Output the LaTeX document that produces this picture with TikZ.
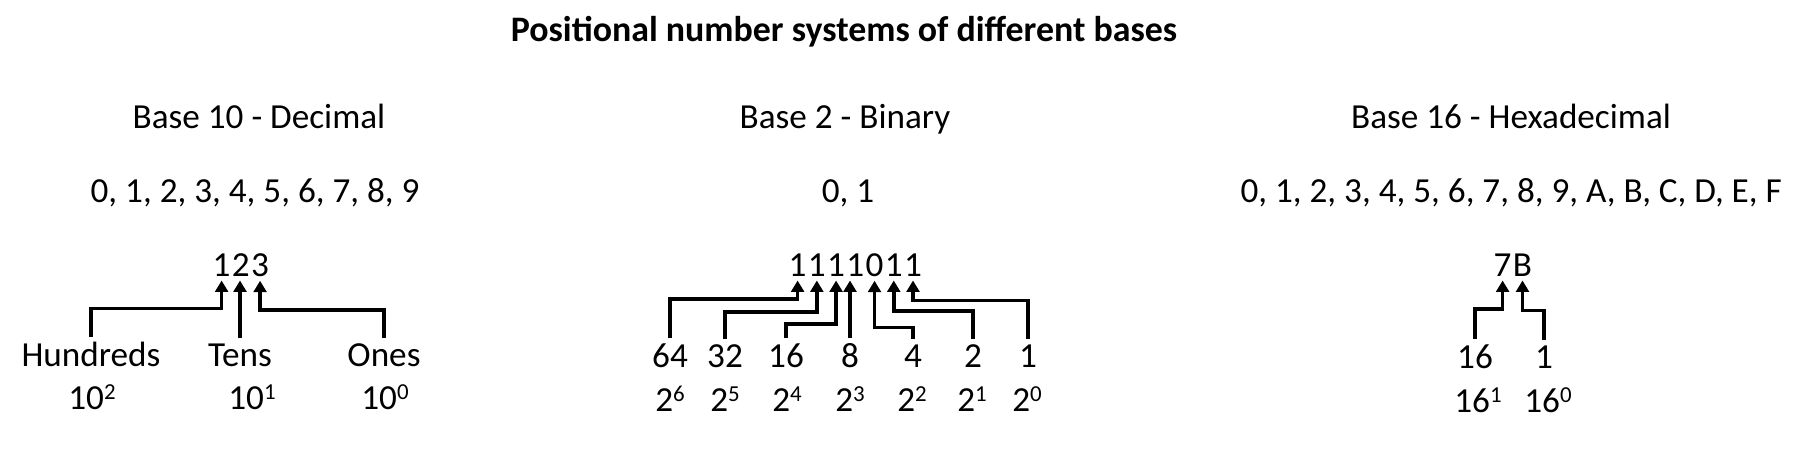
\documentclass[tikz,border=0pt]{standalone}
\usepackage{fontspec}
\setmainfont{Carlito}
\usetikzlibrary{arrows.meta,positioning}
\newcommand{\basepow}[2]{#1\raisebox{3pt}{\fontsize{6.5pt}{6.5pt}\selectfont #2}}
\tikzset{
  txt/.style={anchor=base,inner sep=0pt,font=\fontsize{10pt}{12pt}\selectfont},
  ttl/.style={txt,font=\fontsize{10.2pt}{12pt}\selectfont\bfseries},
  digit/.style={txt,inner xsep=0pt,inner ysep=0.8pt},
  lbl/.style={txt,inner ysep=1.5pt},
  arr/.style={-{Triangle[length=3.2pt,width=3.6pt]},line width=1.05pt},
}

\begin{document}
\begin{tikzpicture}[x=0.01cm,y=-0.01cm]
  \useasboundingbox (0,0) rectangle (1814,452);

  \node[ttl] (title) at (844,42) {Positional number systems of different bases};

  % --- Base 10 ---
  \node[txt] (dechead) at (259,129) {Base 10 - Decimal};
  \node[txt] (decset) at (255,203) {0, 1, 2, 3, 4, 5, 6, 7, 8, 9};
  \node[digit,anchor=base west] (d1) at (212,277) {1};
  \node[digit,base right=0pt of d1] (d2) {2};
  \node[digit,base right=0pt of d2] (d3) {3};
  \node[lbl] (hund) at (91,367) {Hundreds};
  \node[lbl] (tens) at (240,367) {Tens};
  \node[lbl] (ones) at (384,367) {Ones};
  \node[txt] (p102) at (92,410) {\basepow{10}{2}};
  \node[txt] (p101) at (252,410) {\basepow{10}{1}};
  \node[txt] (p100) at (385,410) {\basepow{10}{0}};

  \draw[arr] (hund.north) -- ++(0,-28) -| (d1.south);
  \draw[arr] (tens.north) -- (tens.north |- d2.south);
  \draw[arr] (ones.north) -- ++(0,-28) -| (d3.south);

  % --- Base 2 ---
  \node[txt] (binhead) at (845,129) {Base 2 - Binary};
  \node[txt] (binset) at (848,203) {0, 1};
  \node[digit,anchor=base west] (b6) at (788,277) {1};
  \node[digit,base right=0pt of b6] (b5) {1};
  \node[digit,base right=0pt of b5] (b4) {1};
  \node[digit,base right=0pt of b4] (b3) {1};
  \node[digit,base right=0pt of b3] (b2) {0};
  \node[digit,base right=0pt of b2] (b1) {1};
  \node[digit,base right=0pt of b1] (b0) {1};
  \node[lbl] (l64) at (670,368) {64};
  \node[lbl] (l32) at (725,368) {32};
  \node[lbl] (l16) at (786,368) {16};
  \node[lbl] (l8) at (850,368) {8};
  \node[lbl] (l4) at (913,368) {4};
  \node[lbl] (l2) at (973,368) {2};
  \node[lbl] (l1) at (1028,368) {1};
  \node[txt] (p26) at (670,412) {\basepow{2}{6}};
  \node[txt] (p25) at (725,412) {\basepow{2}{5}};
  \node[txt] (p24) at (787,412) {\basepow{2}{4}};
  \node[txt] (p23) at (850,412) {\basepow{2}{3}};
  \node[txt] (p22) at (912,412) {\basepow{2}{2}};
  \node[txt] (p21) at (972,412) {\basepow{2}{1}};
  \node[txt] (p20) at (1027,412) {\basepow{2}{0}};

  \draw[arr] (l64.north) -- ++(0,-39) -| (b6.south);
  \draw[arr] (l32.north) -- ++(0,-27) -| (b5.south);
  \draw[arr] (l16.north) -- ++(0,-14) -| (b4.south);
  \draw[arr] (l8.north) -- (l8.north |- b3.south);
  \draw[arr] (l4.north) -- ++(0,-12) -| (b2.south);
  \draw[arr] (l2.north) -- ++(0,-28) -| (b1.south);
  \draw[arr] (l1.north) -- ++(0,-39) -| (b0.south);

  % --- Base 16 ---
  \node[txt] (hexhead) at (1511,129) {Base 16 - Hexadecimal};
  \node[txt] (hexset) at (1511,203) {0, 1, 2, 3, 4, 5, 6, 7, 8, 9, A, B, C, D, E, F};
  \node[digit,anchor=base west] (h1) at (1493,277) {7};
  \node[digit,base right=0pt of h1] (h0) {B};
  \node[lbl] (x16) at (1475,369) {16};
  \node[lbl] (x1) at (1544,369) {1};
  \node[txt] (p161) at (1478,413) {\basepow{16}{1}};
  \node[txt] (p160) at (1548,413) {\basepow{16}{0}};

  \draw[arr] (x16.north) -- ++(0,-30) -| (h1.south);
  \draw[arr] (x1.north) -- ++(0,-30) -| (h0.south);
\end{tikzpicture}
\end{document}
